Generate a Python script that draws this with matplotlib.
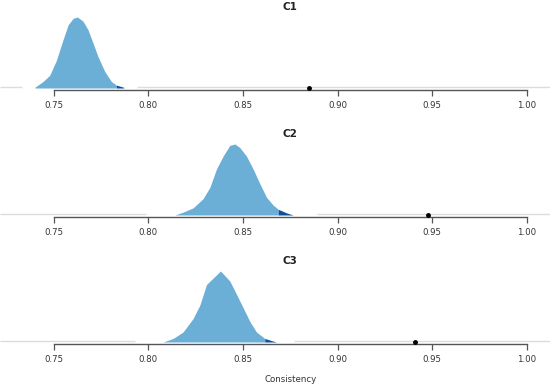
import numpy as np
import matplotlib.pyplot as plt

# panel names
panels = ["C1", "C2", "C3"]

# density curves (x = consistency, h = relative height)
c1_x = [0.7400, 0.7443, 0.7479, 0.7514, 0.7549, 0.7576, 0.7602, 0.7625, 0.7655,
        0.7681, 0.7708, 0.7734, 0.7770, 0.7805, 0.7831, 0.7870]
c1_h = [0.01, 0.09, 0.18, 0.39, 0.68, 0.89, 0.98, 1.00, 0.94,
        0.82, 0.63, 0.44, 0.23, 0.09, 0.04, 0.01]

c2_x = [0.8140, 0.8183, 0.8236, 0.8289, 0.8325, 0.8360, 0.8395, 0.8430, 0.8457,
        0.8483, 0.8518, 0.8553, 0.8589, 0.8624, 0.8659, 0.8686, 0.8730, 0.8765]
c2_h = [0.00, 0.04, 0.10, 0.23, 0.39, 0.65, 0.83, 0.98, 1.00,
        0.95, 0.83, 0.65, 0.44, 0.25, 0.14, 0.08, 0.03, 0.00]

c3_x = [0.8078, 0.8131, 0.8183, 0.8236, 0.8272, 0.8307, 0.8342, 0.8381, 0.8430,
        0.8466, 0.8501, 0.8536, 0.8571, 0.8615, 0.8650, 0.8677]
c3_h = [0.00, 0.05, 0.14, 0.33, 0.52, 0.81, 0.90, 1.00, 0.86,
        0.67, 0.48, 0.29, 0.14, 0.05, 0.02, 0.00]

# start of the dark upper tail
tail_start = [0.7831, 0.8686, 0.8615]

# observed values (black dots)
observed = [0.885, 0.9475, 0.941]

# where the light grey reference line is interrupted
gap_lo = [0.733, 0.799, 0.793]
gap_hi = [0.794, 0.889, 0.877]

ticks = [0.75, 0.80, 0.85, 0.90, 0.95, 1.00]
tick_labels = ["0.75", "0.80", "0.85", "0.90", "0.95", "1.00"]

curves = [(c1_x, c1_h), (c2_x, c2_h), (c3_x, c3_h)]

light = "#6baed6"
dark = "#08519c"

W, H = 550, 384
fig = plt.figure(figsize=(W / 100, H / 100), dpi=100)

xlim = (0.7216, 1.0122)
ylim = (-0.0282, 1.0986)
bottoms = [90, 217, 344]

for i, name in enumerate(panels):
    ax = fig.add_axes([0, 1 - bottoms[i] / H, 1, 80 / H])
    x = np.array(curves[i][0])
    h = np.array(curves[i][1])

    ax.plot([xlim[0], gap_lo[i]], [0.01, 0.01], color="#dcdcdc", lw=1.0, solid_capstyle="butt")
    ax.plot([gap_hi[i], xlim[1]], [0.01, 0.01], color="#dcdcdc", lw=1.0, solid_capstyle="butt")

    ts = tail_start[i]
    ht = np.interp(ts, x, h)
    m1 = x < ts
    ax.fill_between(np.append(x[m1], ts), np.append(h[m1], ht), 0,
                    color=light, lw=0)
    m2 = x > ts
    ax.fill_between(np.insert(x[m2], 0, ts), np.insert(h[m2], 0, ht), 0,
                    color=dark, lw=0)

    ax.plot([observed[i]], [0.0], "o", color="black", ms=2.5, zorder=5, clip_on=False)

    ax.set_xlim(*xlim)
    ax.set_ylim(*ylim)
    for s in ["top", "right", "left"]:
        ax.spines[s].set_visible(False)
    ax.spines["bottom"].set_bounds(ticks[0], ticks[-1])
    ax.spines["bottom"].set_color("#555555")
    ax.spines["bottom"].set_linewidth(1.0)
    ax.set_yticks([])
    ax.set_xticks(ticks)
    ax.set_xticklabels(tick_labels, fontsize=6.2, color="#333333")
    ax.tick_params(axis="x", length=4, width=0.9, color="#555555", pad=4)
    ax.patch.set_alpha(0)

    ax.text((ticks[0] + ticks[-1]) / 2, 1.035, name, ha="center", va="center",
            fontsize=7.5, fontweight="bold", color="#222222",
            transform=ax.get_xaxis_transform())

    if i == 2:
        ax.set_xlabel("Consistency", fontsize=6.2, color="#333333")
        ax.xaxis.set_label_coords(0.5 * (ticks[0] + ticks[-1]), -0.39,
                                  transform=ax.get_xaxis_transform())

fig.savefig("out.png", dpi=100)
